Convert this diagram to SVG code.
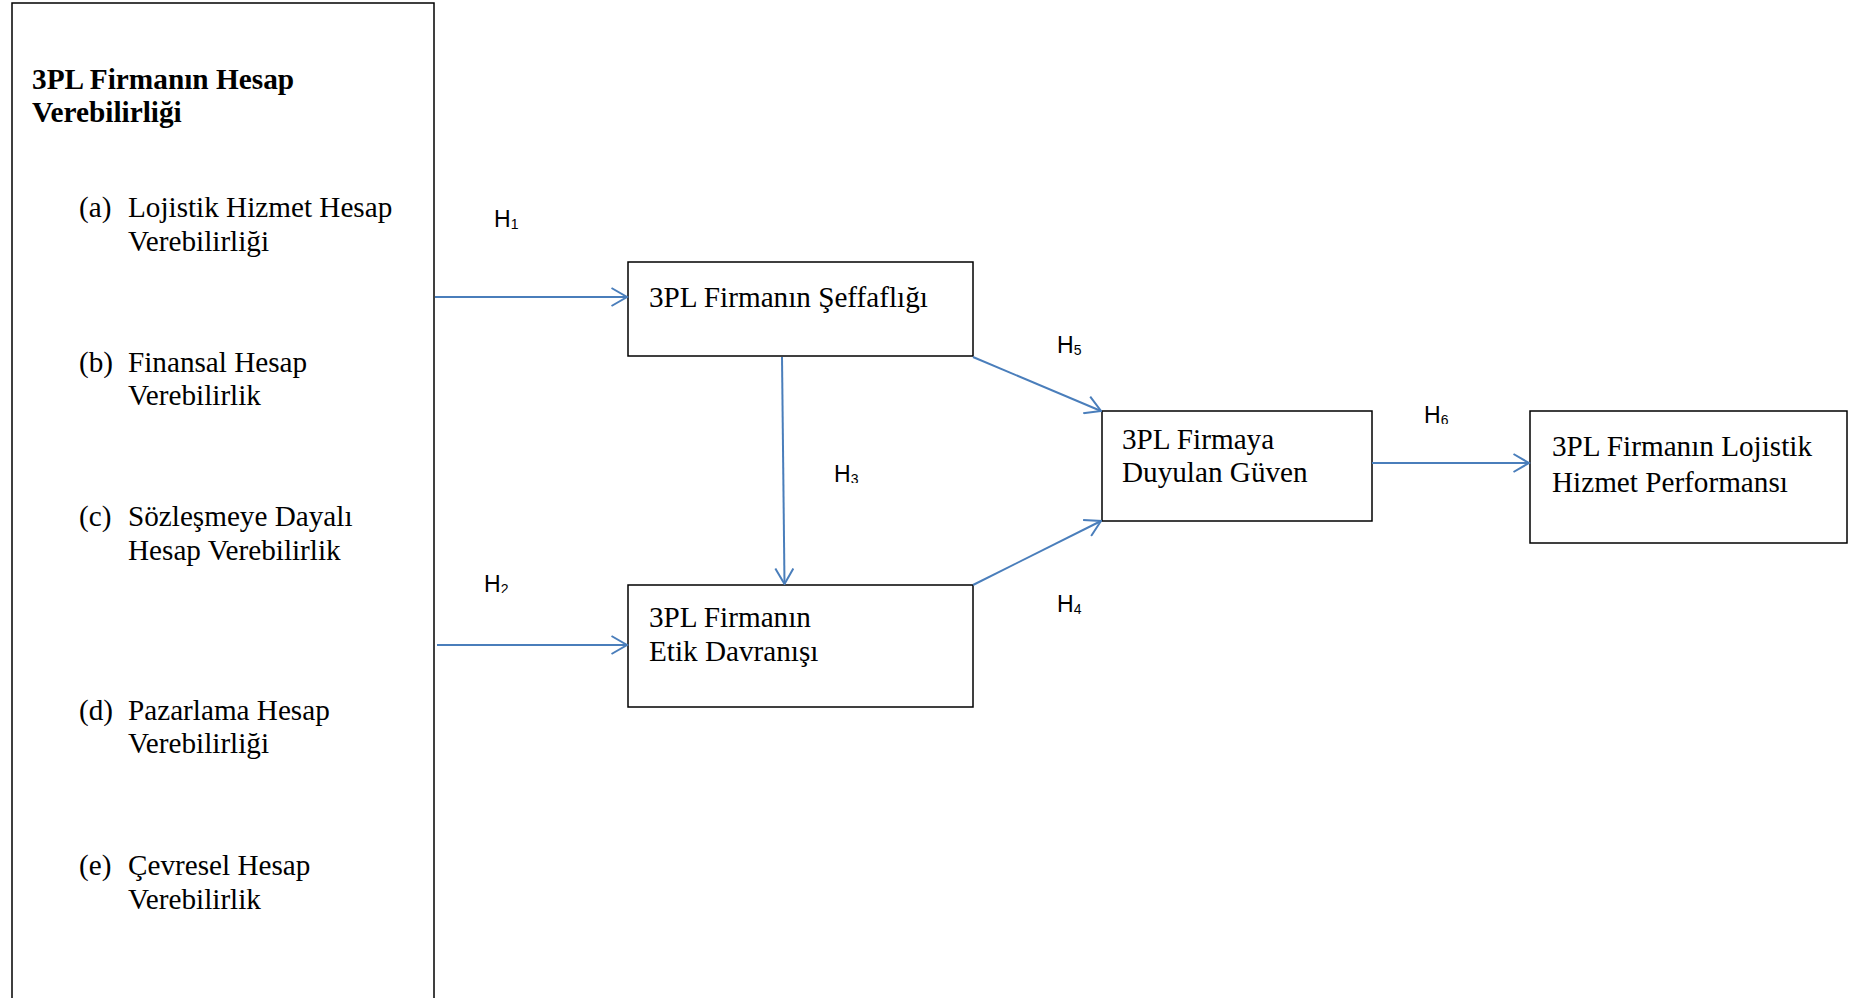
<svg xmlns="http://www.w3.org/2000/svg" width="1856" height="998" viewBox="0 0 1856 998">
  <style>
    .box { fill: #ffffff; stroke: #000000; stroke-width: 1.5; }
    .t { font-family: "Liberation Serif", "Times New Roman", serif; font-size: 29.2px; fill: #000000; }
    .tb { font-family: "Liberation Serif", "Times New Roman", serif; font-size: 29.3px; font-weight: bold; fill: #000000; }
    .h { font-family: "Liberation Sans", Arial, sans-serif; font-size: 23px; fill: #000000; }
    .sub { font-size: 14px; }
    .conn { stroke: #4a7ebb; stroke-width: 2; fill: none; marker-end: url(#arr); }
  </style>
  <defs>
    <marker id="arr" viewBox="0 0 18 20" refX="16.5" refY="10" markerWidth="18" markerHeight="20" markerUnits="userSpaceOnUse" orient="auto">
      <path d="M1,1 L16.5,10 L1,19" fill="none" stroke="#4a7ebb" stroke-width="2"/>
    </marker>
    <clipPath id="c2"><rect x="470" y="560" width="60" height="33"/></clipPath>
    <clipPath id="c3"><rect x="820" y="450" width="60" height="33"/></clipPath>
    <clipPath id="c5"><rect x="1040" y="320" width="80" height="36"/></clipPath>
    <clipPath id="c6"><rect x="1410" y="390" width="60" height="34"/></clipPath>
  </defs>
  <rect width="1856" height="998" fill="#ffffff"/>

  <g id="accountability">
    <rect class="box" x="12" y="3" width="422" height="1010"/>
    <text class="tb" x="32" y="89">3PL Firmanın Hesap</text>
    <text class="tb" x="32" y="122">Verebilirliği</text>
    <text class="t" x="79" y="217">(a)</text>
    <text class="t" x="128" y="217">Lojistik Hizmet Hesap</text>
    <text class="t" x="128" y="251">Verebilirliği</text>
    <text class="t" x="79" y="372">(b)</text>
    <text class="t" x="128" y="372">Finansal Hesap</text>
    <text class="t" x="128" y="405">Verebilirlik</text>
    <text class="t" x="79" y="526">(c)</text>
    <text class="t" x="128" y="526">Sözleşmeye Dayalı</text>
    <text class="t" x="128" y="560">Hesap Verebilirlik</text>
    <text class="t" x="79" y="720">(d)</text>
    <text class="t" x="128" y="720">Pazarlama Hesap</text>
    <text class="t" x="128" y="753">Verebilirliği</text>
    <text class="t" x="79" y="875">(e)</text>
    <text class="t" x="128" y="875">Çevresel Hesap</text>
    <text class="t" x="128" y="909">Verebilirlik</text>
  </g>

  <g id="transparency">
    <rect class="box" x="628" y="262" width="345" height="94"/>
    <text class="t" x="649" y="307">3PL Firmanın Şeffaflığı</text>
  </g>

  <g id="ethics">
    <rect class="box" x="628" y="585" width="345" height="122"/>
    <text class="t" x="649" y="627">3PL Firmanın</text>
    <text class="t" x="649" y="661">Etik Davranışı</text>
  </g>

  <g id="trust">
    <rect class="box" x="1102" y="411" width="270" height="110"/>
    <text class="t" x="1122" y="449">3PL Firmaya</text>
    <text class="t" x="1122" y="482">Duyulan Güven</text>
  </g>

  <g id="performance">
    <rect class="box" x="1530" y="411" width="317" height="132"/>
    <text class="t" x="1552" y="456">3PL Firmanın Lojistik</text>
    <text class="t" x="1552" y="492">Hizmet Performansı</text>
  </g>

  <g id="connectors">
    <line class="conn" x1="435" y1="297" x2="627" y2="297"/>
    <line class="conn" x1="437" y1="645" x2="627" y2="645"/>
    <line class="conn" x1="782" y1="357" x2="784.5" y2="584"/>
    <line class="conn" x1="973" y1="357" x2="1101" y2="411"/>
    <line class="conn" x1="973" y1="585" x2="1101" y2="521"/>
    <line class="conn" x1="1372" y1="463" x2="1529" y2="463"/>
  </g>

  <g id="labels">
    <text class="h" x="494" y="227">H<tspan class="sub" dy="2">1</tspan></text>
    <g clip-path="url(#c2)"><text class="h" x="484" y="592">H<tspan class="sub" dy="2">2</tspan></text></g>
    <g clip-path="url(#c3)"><text class="h" x="834" y="482">H<tspan class="sub" dy="2">3</tspan></text></g>
    <g clip-path="url(#c5)"><text class="h" x="1057" y="353">H<tspan class="sub" dy="2">5</tspan></text></g>
    <text class="h" x="1057" y="612">H<tspan class="sub" dy="2">4</tspan></text>
    <g clip-path="url(#c6)"><text class="h" x="1424" y="423">H<tspan class="sub" dy="2">6</tspan></text></g>
  </g>
</svg>
